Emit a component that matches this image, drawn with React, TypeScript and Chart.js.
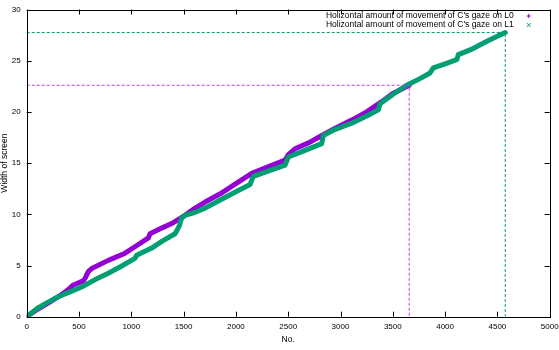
import React, { useEffect, useRef } from "react";
import { Chart, registerables } from "chart.js";

Chart.register(...registerables);

// ---- Data ----
const l0X = [0, 100, 200, 302, 380, 446, 540, 560, 589, 621, 780, 940, 1060, 1163, 1179, 1300, 1386, 1513, 1610, 1705, 1850, 2000, 2151, 2300, 2470, 2500, 2565, 2700, 2804, 2950, 3107, 3250, 3394, 3500, 3657];
const l0Y = [0, 0.7, 1.3, 1.95, 2.5, 3.1, 3.5, 3.8, 4.4, 4.7, 5.5, 6.2, 7.0, 7.7, 8.1, 8.7, 9.1, 9.9, 10.6, 11.2, 12.0, 13.0, 14.0, 14.6, 15.3, 15.8, 16.4, 17.0, 17.6, 18.4, 19.2, 20.0, 21.0, 21.8, 22.6];

const l1X = [0, 100, 200, 302, 420, 525, 650, 780, 900, 1035, 1051, 1195, 1300, 1418, 1440, 1460, 1480, 1513, 1610, 1705, 1850, 2000, 2135, 2166, 2300, 2470, 2501, 2650, 2820, 2836, 2950, 3107, 3250, 3362, 3378, 3500, 3633, 3750, 3856, 3887, 4000, 4111, 4127, 4250, 4400, 4575];
const l1Y = [0, 0.8, 1.4, 1.95, 2.45, 2.9, 3.6, 4.24, 4.9, 5.7, 6.0, 6.7, 7.4, 8.1, 8.5, 8.9, 9.6, 9.9, 10.2, 10.6, 11.4, 12.2, 12.9, 13.7, 14.2, 14.8, 15.6, 16.2, 16.9, 17.7, 18.3, 18.9, 19.6, 20.2, 20.8, 21.7, 22.6, 23.2, 23.8, 24.3, 24.7, 25.1, 25.6, 26.1, 26.9, 27.75];

const xTicks = [0, 500, 1000, 1500, 2000, 2500, 3000, 3500, 4000, 4500, 5000];
const yTicks = [0, 5, 10, 15, 20, 25, 30];

const seriesLabels = [
  "Holizontal amount of movement of C's gaze on L0",
  "Holizontal amount of movement of C's gaze on L1",
];
const xTitle = "No.";
const yTitle = "Width of screen";

const COLOR_L0 = "#9400D3";
const COLOR_L1 = "#009E73";
const COLOR_GUIDE0 = "#cc33ff";
const COLOR_GUIDE1 = "#009E73";
const FONT = "'Liberation Sans', Arial, Helvetica, sans-serif";

const toPoints = (xs: number[], ys: number[]) => xs.map((x, i) => ({ x, y: ys[i] }));
const guide = (xs: number[], ys: number[]) => {
  const ex = xs[xs.length - 1];
  const ey = ys[ys.length - 1];
  return [
    { x: 0, y: ey },
    { x: ex, y: ey },
    { x: ex, y: 0 },
  ];
};

const framePlugin = {
  id: "gnuFrame",
  afterDraw(chart: any) {
    const { ctx, chartArea: a, scales } = chart;
    const xs = scales.x;
    const ys = scales.y;
    ctx.save();
    ctx.strokeStyle = "#000";
    ctx.lineWidth = 1;
    ctx.beginPath();
    const tl = 5;
    xTicks.forEach((v) => {
      const px = Math.round(xs.getPixelForValue(v)) + 0.5;
      ctx.moveTo(px, a.bottom);
      ctx.lineTo(px, a.bottom - tl);
      ctx.moveTo(px, a.top);
      ctx.lineTo(px, a.top + tl);
    });
    yTicks.forEach((v) => {
      const py = Math.round(ys.getPixelForValue(v)) + 0.5;
      ctx.moveTo(a.left, py);
      ctx.lineTo(a.left + tl, py);
      ctx.moveTo(a.right, py);
      ctx.lineTo(a.right - tl, py);
    });
    ctx.stroke();
    ctx.strokeRect(
      Math.round(a.left) + 0.5,
      Math.round(a.top) + 0.5,
      Math.round(a.right - a.left),
      Math.round(a.bottom - a.top)
    );

    // legend (gnuplot style, inside top-right)
    ctx.font = `8.5px ${FONT}`;
    ctx.fillStyle = "#000";
    ctx.textAlign = "right";
    ctx.textBaseline = "middle";
    const tx = a.right - 36;
    const mx = a.right - 21;
    const rows = [a.top + 6.5, a.top + 15.5];
    const colors = [COLOR_L0, COLOR_L1];
    seriesLabels.forEach((label, i) => {
      ctx.fillText(label, tx, rows[i]);
      ctx.strokeStyle = colors[i];
      ctx.lineWidth = 1;
      ctx.beginPath();
      const s = 2;
      if (i === 0) {
        ctx.moveTo(mx - s, rows[i]);
        ctx.lineTo(mx + s, rows[i]);
        ctx.moveTo(mx, rows[i] - s);
        ctx.lineTo(mx, rows[i] + s);
      } else {
        ctx.moveTo(mx - s, rows[i] - s);
        ctx.lineTo(mx + s, rows[i] + s);
        ctx.moveTo(mx - s, rows[i] + s);
        ctx.lineTo(mx + s, rows[i] - s);
      }
      ctx.stroke();
    });
    ctx.restore();
  },
};

export default function App() {
  const ref = useRef<HTMLCanvasElement | null>(null);

  useEffect(() => {
    if (!ref.current) return;
    const chart = new Chart(ref.current, {
      type: "line",
      data: {
        datasets: [
          {
            label: "guide L1",
            data: guide(l1X, l1Y),
            borderColor: COLOR_GUIDE1,
            borderWidth: 1,
            borderDash: [3, 2],
            pointRadius: 0,
            fill: false,
            order: 0,
          },
          {
            label: "guide L0",
            data: guide(l0X, l0Y),
            borderColor: COLOR_GUIDE0,
            borderWidth: 1,
            borderDash: [3, 2],
            pointRadius: 0,
            fill: false,
            order: 1,
          },
          {
            label: seriesLabels[1],
            data: toPoints(l1X, l1Y),
            borderColor: COLOR_L1,
            borderWidth: 5,
            borderCapStyle: "round",
            borderJoinStyle: "round",
            pointRadius: 0,
            fill: false,
            order: 2,
          },
          {
            label: seriesLabels[0],
            data: toPoints(l0X, l0Y),
            borderColor: COLOR_L0,
            borderWidth: 5,
            borderCapStyle: "round",
            borderJoinStyle: "round",
            pointRadius: 0,
            fill: false,
            order: 3,
          },
        ],
      },
      options: {
        responsive: false,
        animation: false,
        devicePixelRatio: 1,
        layout: { padding: { top: 9.5, right: 9.3, left: 0, bottom: 5 } },
        plugins: {
          legend: { display: false },
          tooltip: { enabled: false },
        },
        scales: {
          x: {
            type: "linear",
            min: 0,
            max: 5000,
            afterBuildTicks: (s: any) => {
              s.ticks = xTicks.map((v) => ({ value: v }));
            },
            afterFit: (s: any) => {
              s.height = 28.3;
              s.paddingLeft = 0;
              s.paddingRight = 0;
            },
            grid: { display: false, drawTicks: false },
            border: { display: false },
            ticks: {
              padding: 5,
              color: "#000",
              font: { family: FONT, size: 8 },
              maxRotation: 0,
              autoSkip: false,
              callback: (v: any) => String(v),
            },
            title: {
              display: true,
              text: xTitle,
              color: "#000",
              font: { family: FONT, size: 8.5 },
              padding: 0,
            },
          },
          y: {
            type: "linear",
            min: 0,
            max: 30,
            afterBuildTicks: (s: any) => {
              s.ticks = yTicks.map((v) => ({ value: v }));
            },
            afterFit: (s: any) => {
              s.width = 26.7;
              s.paddingTop = 0;
              s.paddingBottom = 0;
            },
            grid: { display: false, drawTicks: false },
            border: { display: false },
            ticks: {
              padding: 6,
              color: "#000",
              font: { family: FONT, size: 8 },
              autoSkip: false,
              callback: (v: any) => String(v),
            },
            title: {
              display: true,
              text: yTitle,
              color: "#000",
              font: { family: FONT, size: 8.5 },
              padding: 0,
            },
          },
        },
      },
      plugins: [framePlugin],
    } as any);
    return () => chart.destroy();
  }, []);

  return (
    <div style={{ position: "fixed", left: 0, top: 0, width: 559, height: 350, background: "#fff" }}>
      <canvas ref={ref} width={559} height={350} style={{ display: "block" }} />
    </div>
  );
}
